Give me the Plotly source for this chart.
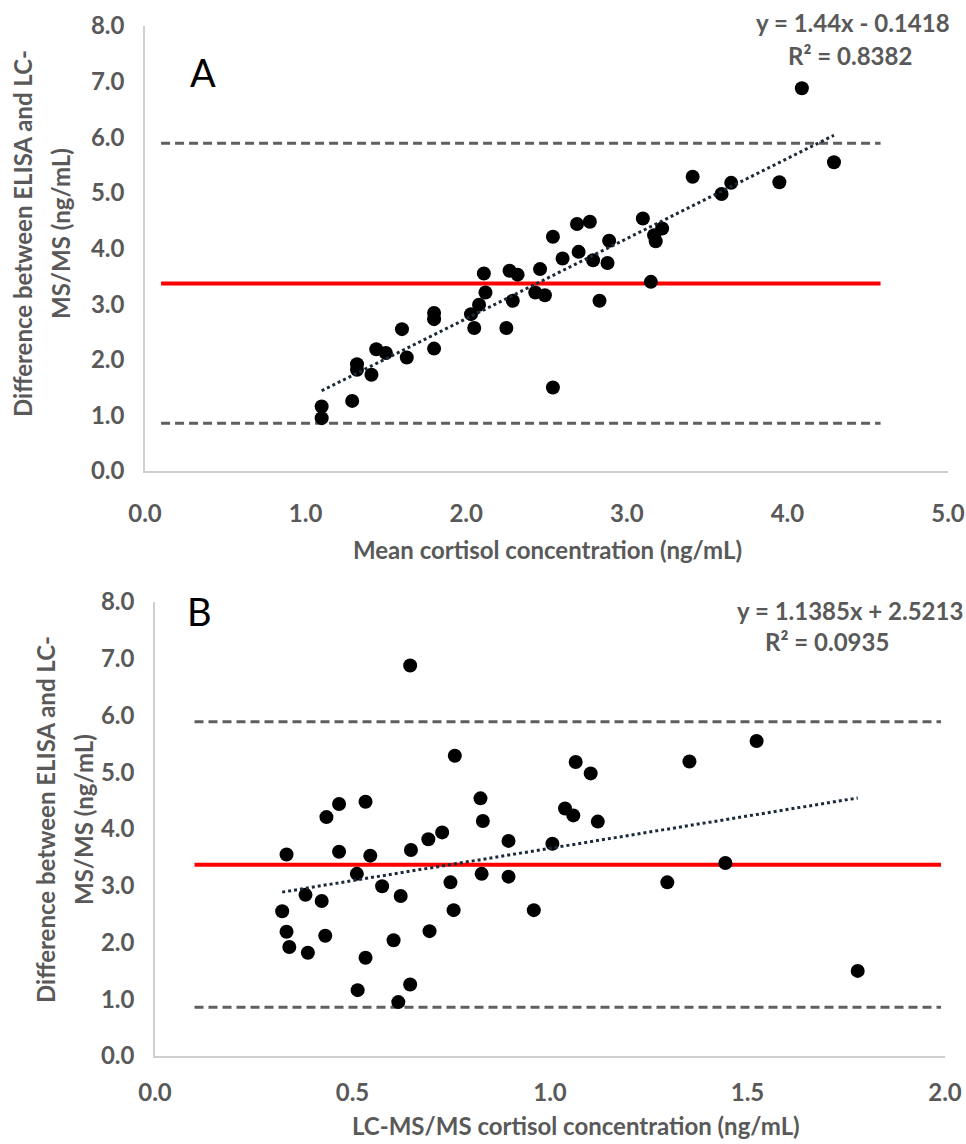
import plotly.graph_objects as go

# ---------------- data ----------------
mean_conc = [1.10, 1.10, 1.29, 1.32, 1.32, 1.41, 1.44, 1.50, 1.60, 1.63,
             1.80, 1.80, 1.80, 2.03, 2.05, 2.08, 2.11, 2.12, 2.25, 2.27,
             2.32, 2.29, 2.46, 2.43, 2.49, 2.54, 2.54, 2.60, 2.69, 2.70,
             2.77, 2.79, 2.83, 2.88, 2.89, 3.10, 3.15, 3.17, 3.18, 3.22,
             3.41, 3.59, 3.65, 3.95, 4.09, 4.29]
difference = [1.16, 0.95, 1.26, 1.92, 1.82, 1.73, 2.19, 2.12, 2.55, 2.04,
              2.84, 2.73, 2.20, 2.82, 2.57, 2.99, 3.55, 3.21, 2.57, 3.60,
              3.53, 3.06, 3.63, 3.21, 3.16, 4.21, 1.50, 3.82, 4.44, 3.94,
              4.48, 3.79, 3.06, 3.74, 4.14, 4.54, 3.40, 4.24, 4.13, 4.36,
              5.29, 4.98, 5.18, 5.19, 6.88, 5.55]
lcms_conc = [0.513, 0.616, 0.646, 0.340, 0.387, 0.533, 0.333, 0.431, 0.322, 0.604,
             0.381, 0.422, 0.695, 0.622, 0.756, 0.575, 0.333, 0.511, 0.959, 0.466,
             0.545, 0.748, 0.648, 0.827, 0.895, 0.434, 1.779, 0.692, 0.466, 0.727,
             0.533, 0.895, 1.297, 1.006, 0.830, 0.824, 1.444, 1.059, 1.121, 1.038,
             0.759, 1.103, 1.065, 1.353, 0.646, 1.523]

bias = 3.37
upper_loa = 5.89
lower_loa = 0.86

slope_A, intercept_A, r2_A = 1.44, -0.1418, 0.8382
slope_B, intercept_B, r2_B = 1.1385, 2.5213, 0.0935

ref_x_A = [0.1, 4.58]
ref_x_B = [0.1, 1.99]

x_ticks_A = [0, 1, 2, 3, 4, 5]
x_ticks_B = [0, 0.5, 1.0, 1.5, 2.0]
y_ticks = [0, 1, 2, 3, 4, 5, 6, 7, 8]

# ---------------- figure ----------------
W, H = 966, 1144
FONT = "Lato"
GREY = "#595959"

def px(x):
    return x / W

def py(y):
    return 1 - y / H

fig = go.Figure()

def add_panel(xs, ys, slope, intercept, ref_x, xa, ya):
    # limits of agreement
    for v in (upper_loa, lower_loa):
        fig.add_trace(go.Scatter(x=ref_x, y=[v, v], mode="lines",
                                 line=dict(color="#5f5f5f", width=3, dash="9px,5px"),
                                 xaxis=xa, yaxis=ya, hoverinfo="skip"))
    fig.add_trace(go.Scatter(x=ref_x, y=[bias, bias], mode="lines",
                             line=dict(color="#ff0000", width=4),
                             xaxis=xa, yaxis=ya, hoverinfo="skip"))
    fig.add_trace(go.Scatter(x=xs, y=ys, mode="markers",
                             marker=dict(color="black", size=14),
                             xaxis=xa, yaxis=ya))
    x0, x1 = min(xs), max(xs)
    fig.add_trace(go.Scatter(x=[x0, x1], y=[slope * x0 + intercept, slope * x1 + intercept],
                             mode="lines", line=dict(color="#1b2a3a", width=3, dash="dot"),
                             xaxis=xa, yaxis=ya, hoverinfo="skip"))

add_panel(mean_conc, difference, slope_A, intercept_A, ref_x_A, "x", "y")
add_panel(lcms_conc, difference, slope_B, intercept_B, ref_x_B, "x2", "y2")

axis_common = dict(showgrid=False, zeroline=False, showline=True, automargin=False,
                   linecolor="#cfcfcf", linewidth=1.5, ticks="",
                   ticklabeloverflow="allow",
                   tickfont=dict(family=FONT, size=24, color=GREY, weight="bold"),
                   tickformat=".1f")

# Panel geometry (pixels)
A_x0, A_x1, A_y0, A_y8 = 145, 948, 471, 26
B_x0, B_x1, B_y0, B_y8 = 155, 945, 1056, 602

fig.update_layout(
    width=W, height=H, margin=dict(l=0, r=0, t=0, b=0, pad=0, autoexpand=False),
    paper_bgcolor="white", plot_bgcolor="white", showlegend=False,
    xaxis=dict(axis_common, domain=[px(A_x0), px(A_x1)], range=[0, 5],
               tickvals=x_ticks_A, anchor="y", ticklabelstandoff=20),
    yaxis=dict(axis_common, domain=[py(A_y0), py(A_y8)], range=[0, 8],
               tickvals=y_ticks, anchor="x", ticklabelstandoff=14),
    xaxis2=dict(axis_common, domain=[px(B_x0), px(B_x1)], range=[0, 2],
                tickvals=x_ticks_B, anchor="y2", ticklabelstandoff=14),
    yaxis2=dict(axis_common, domain=[py(B_y0), py(B_y8)], range=[0, 8],
                tickvals=y_ticks, anchor="x2", ticklabelstandoff=14),
)

def ann(text, x, y, size, bold=True, color=GREY, angle=0):
    fig.add_annotation(text=text, x=px(x), y=py(y), xref="paper", yref="paper",
                       xanchor="center", yanchor="middle", showarrow=False,
                       textangle=angle,
                       font=dict(family=FONT, size=size, color=color,
                                 weight="bold" if bold else "normal"))

# equations
ann(f"y = {slope_A}x - {abs(intercept_A)}", 853, 22, 24)
ann(f"R² = {r2_A}", 850, 55, 24)
ann(f"y = {slope_B}x + {intercept_B}", 850, 610, 24)
ann(f"R² = {r2_B}", 827, 641, 24)

# panel letters
ann("A", 203, 72, 38, bold=False, color="black")
ann("B", 199, 611, 38, bold=False, color="black")

# axis titles
ann("Mean cortisol concentration (ng/mL)", 547, 549, 24)
ann("LC-MS/MS cortisol concentration (ng/mL)", 576, 1125, 24)
ann("Difference between ELISA and LC-", 22, 234, 24, angle=-90)
ann("MS/MS (ng/mL)", 60, 234, 24, angle=-90)
ann("Difference between ELISA and LC-", 45, 820, 24, angle=-90)
ann("MS/MS (ng/mL)", 83, 820, 24, angle=-90)

fig.write_html("out.html")
